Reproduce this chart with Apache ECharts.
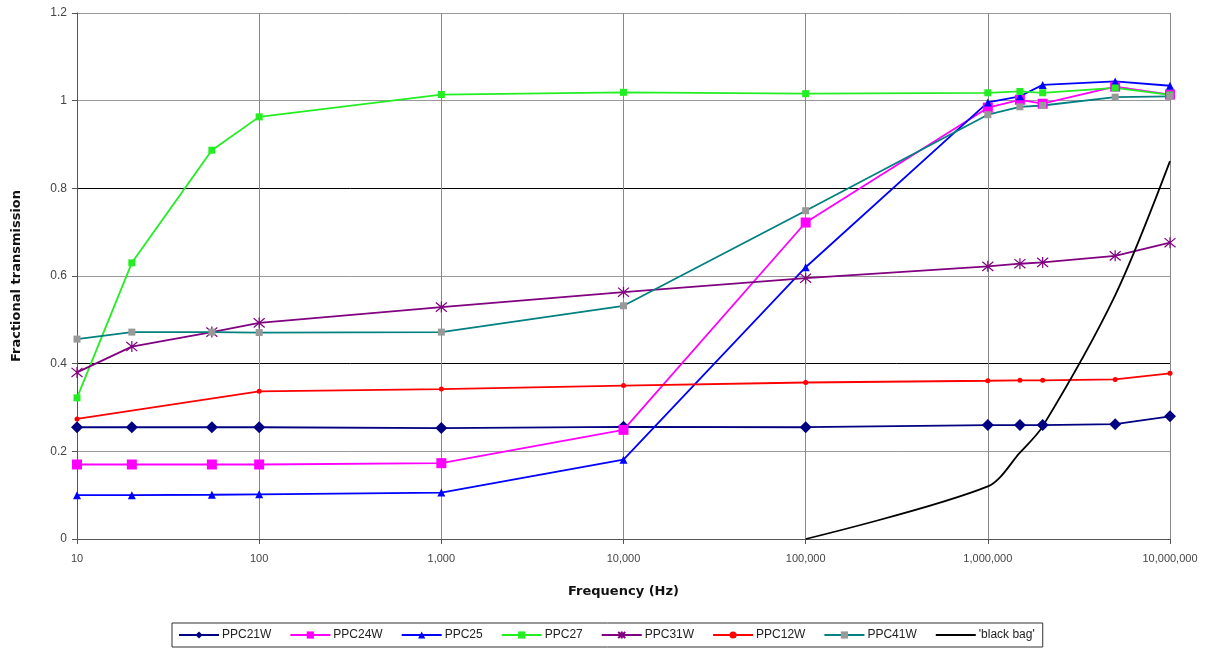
<!DOCTYPE html>
<html>
<head>
<meta charset="utf-8">
<script src="https://cdn.jsdelivr.net/npm/echarts@6/dist/echarts.min.js"></script>
<style>
html,body{margin:0;padding:0;background:#fff;}
#chart{width:1220px;height:656px;}
</style>
</head>
<body>
<div id="chart"></div>
<script>
// ---- data ----
const freqMain = [10, 20, 55, 100, 1000, 10000, 100000, 1000000, 1500000, 2000000, 5000000, 10000000];
const freqRed = [10, 100, 1000, 10000, 100000, 1000000, 1500000, 2000000, 5000000, 10000000];
const freqBag = [100000, 1000000, 1500000, 2000000, 5000000, 10000000];

const ppc21w = [0.255, 0.255, 0.255, 0.255, 0.253, 0.256, 0.255, 0.260, 0.260, 0.260, 0.262, 0.280];
const ppc24w = [0.170, 0.170, 0.170, 0.170, 0.173, 0.249, 0.722, 0.984, 1.002, 0.993, 1.032, 1.014];
const ppc25  = [0.100, 0.100, 0.101, 0.102, 0.106, 0.181, 0.620, 0.996, 1.010, 1.036, 1.044, 1.034];
const ppc27  = [0.322, 0.630, 0.887, 0.963, 1.014, 1.019, 1.016, 1.018, 1.021, 1.018, 1.029, 1.013];
const ppc31w = [0.380, 0.439, 0.472, 0.493, 0.529, 0.563, 0.595, 0.622, 0.628, 0.631, 0.646, 0.676];
const ppc12w = [0.274, 0.337, 0.342, 0.350, 0.357, 0.361, 0.362, 0.362, 0.364, 0.378];
const ppc41w = [0.456, 0.472, 0.472, 0.471, 0.472, 0.532, 0.749, 0.968, 0.986, 0.989, 1.008, 1.010];
const blackBag = [0, 0.120, 0.197, 0.257, 0.556, 0.862];

const yTicks = [0, 0.2, 0.4, 0.6, 0.8, 1.0, 1.2];
const legendNames = ['PPC21W', 'PPC24W', 'PPC25', 'PPC27', 'PPC31W', 'PPC12W', 'PPC41W', "'black bag'"];

function pairs(xs, ys) { return xs.map((x, i) => [x, ys[i]]); }

const starPath = 'path://M-5,-5L5,5M5,-5L-5,5M0,-6L0,6M-5,-5L-5,-5';
const FONT = 'Liberation Sans, Arial, sans-serif';
const TITLE_FONT = 'DejaVu Sans, Liberation Sans, sans-serif';

const chart = echarts.init(document.getElementById('chart'), null, {renderer: 'canvas'});

function lineSeries(name, xs, ys, color, symbol, size, extra) {
  return Object.assign({
    name: name,
    type: 'line',
    data: pairs(xs, ys),
    symbol: symbol,
    symbolSize: size,
    showSymbol: true,
    lineStyle: {color: color, width: 1.8},
    itemStyle: {color: color},
    emphasis: {disabled: true},
    animation: false
  }, extra || {});
}

const option = {
  backgroundColor: '#ffffff',
  animation: false,
  textStyle: {fontFamily: FONT},
  grid: {left: 77, right: 50, top: 13, bottom: 117, show: false},
  xAxis: {
    type: 'log',
    logBase: 10,
    min: 10,
    max: 10000000,
    name: 'Frequency (Hz)',
    nameLocation: 'middle',
    nameGap: 46,
    nameTextStyle: {fontWeight: 'bold', fontSize: 13, color: '#111', fontFamily: TITLE_FONT},
    axisLine: {show: true, lineStyle: {color: '#555', width: 1}},
    axisTick: {show: true, length: 5, lineStyle: {color: '#555'}},
    minorTick: {show: false},
    axisLabel: {
      color: '#444', fontSize: 11, margin: 14,
      fontFamily: FONT,
      formatter: v => Math.round(v).toLocaleString('en-US')
    },
    splitLine: {show: true, lineStyle: {color: '#888', width: 1}}
  },
  yAxis: {
    type: 'value',
    min: 0,
    max: 1.2,
    interval: 0.2,
    name: 'Fractional transmission',
    nameLocation: 'middle',
    nameGap: 54,
    nameRotate: 90,
    nameTextStyle: {fontWeight: 'bold', fontSize: 13, color: '#111', fontFamily: TITLE_FONT},
    axisLine: {show: true, lineStyle: {color: '#555', width: 1}},
    axisTick: {show: true, length: 5, lineStyle: {color: '#555'}},
    axisLabel: {
      color: '#444', fontSize: 12, margin: 10,
      fontFamily: FONT,
      formatter: v => {
        const t = yTicks.find(y => Math.abs(y - v) < 1e-9);
        return t === undefined ? '' : String(Number(t.toFixed(1)));
      }
    },
    splitLine: {show: true, lineStyle: {color: ['#999', '#999', '#000', '#999', '#000', '#999', '#999'], width: 1}}
  },
  legend: {
    show: true,
    left: 172,
    top: 623,
    padding: [6, 8, 6, 6],
    itemGap: 18,
    itemWidth: 40,
    itemHeight: 9,
    borderColor: '#333',
    borderWidth: 1,
    textStyle: {fontSize: 12, color: '#222', fontFamily: FONT, padding: [0, 0, 0, -2]},
    data: legendNames.map((n, i) => i === 7
      ? {name: n, itemStyle: {color: 'rgba(0,0,0,0)', borderWidth: 0}}
      : n)
  },
  series: [
    lineSeries(legendNames[0], freqMain, ppc21w, '#000080', 'diamond', 12),
    lineSeries(legendNames[1], freqMain, ppc24w, '#ff00ff', 'rect', 10),
    lineSeries(legendNames[2], freqMain, ppc25, '#0000ff', 'triangle', 8),
    lineSeries(legendNames[3], freqMain, ppc27, '#22ee22', 'rect', 7),
    lineSeries(legendNames[4], freqMain, ppc31w, '#800080', starPath, 11, {
      itemStyle: {color: '#800080', borderColor: '#800080', borderWidth: 1.2}
    }),
    lineSeries(legendNames[5], freqRed, ppc12w, '#ff0000', 'circle', 5),
    lineSeries(legendNames[6], freqMain, ppc41w, '#008080', 'rect', 7, {
      itemStyle: {color: '#999999'}
    }),
    lineSeries(legendNames[7], freqBag, blackBag, '#000000', 'none', 0, {smooth: 0.3, showSymbol: false})
  ]
};

chart.setOption(option);
</script>
</body>
</html>
